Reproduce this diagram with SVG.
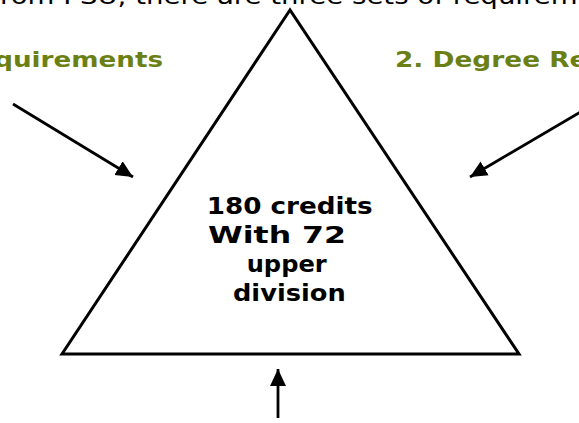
<svg xmlns="http://www.w3.org/2000/svg" width="579" height="423" viewBox="0 0 579 423">
  <style>
    .top { font-family: "DejaVu Sans", "Liberation Sans", sans-serif; font-size: 23px; fill: #000; }
    .lbl { font-family: "DejaVu Sans", "Liberation Sans", sans-serif; font-size: 22px; font-weight: bold; fill: #6b8014; }
    .ctr { font-family: "DejaVu Sans", "Liberation Sans", sans-serif; font-size: 23px; font-weight: bold; fill: #000; }
    .conn { stroke: #000; stroke-width: 2.8; fill: none; marker-end: url(#ah); }
  </style>
  <defs>
    <marker id="ah" markerUnits="userSpaceOnUse" markerWidth="18" markerHeight="18" viewBox="0 -9 18 18" refX="17" refY="0" orient="auto">
      <path d="M0,-8 L17,0 L0,8 z" fill="#000"/>
    </marker>
  </defs>
  <rect width="579" height="423" fill="#fff"/>

  <g id="intro">
    <text class="top" transform="translate(-9.7,4) scale(1.2,1)" x="0" y="0">from PSU, there are three sets of requirements</text>
  </g>
  <g id="label-1">
    <text class="lbl" transform="translate(163,67) scale(1.19,1)" x="0" y="0" text-anchor="end">Requirements</text>
  </g>
  <g id="label-2">
    <text class="lbl" transform="translate(395,67) scale(1.2,1)" x="0" y="0">2. Degree Requirements</text>
  </g>

  <g id="triangle">
    <polygon points="290,10 62,354 519,354" fill="none" stroke="#000" stroke-width="3"/>
    <text class="ctr" x="206.7" y="214" textLength="166" lengthAdjust="spacingAndGlyphs">180 credits</text>
    <text class="ctr" x="208" y="243" textLength="138" lengthAdjust="spacingAndGlyphs">With 72</text>
    <text class="ctr" x="246.7" y="272" textLength="80" lengthAdjust="spacingAndGlyphs">upper</text>
    <text class="ctr" x="233" y="301" textLength="112.7" lengthAdjust="spacingAndGlyphs">division</text>
  </g>

  <g id="connectors">
    <line class="conn" x1="13" y1="104" x2="133" y2="177"/>
    <line class="conn" x1="582" y1="111" x2="470" y2="177"/>
    <line class="conn" x1="278" y1="418" x2="278" y2="369"/>
  </g>
</svg>
